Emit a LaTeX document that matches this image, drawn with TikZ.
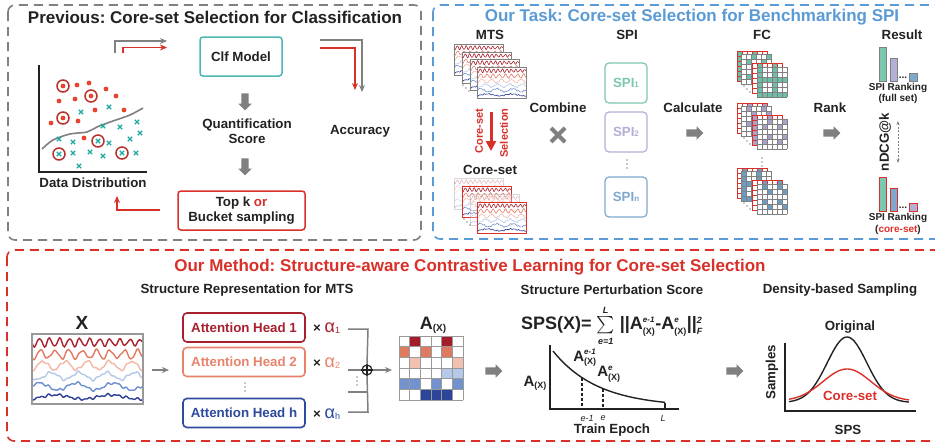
\documentclass[tikz,border=0pt]{standalone}
\usepackage{amsmath}
\usepackage{fontspec}
\setmainfont{Liberation Sans}
\usetikzlibrary{arrows.meta, shapes.arrows, positioning}
\frenchspacing

\definecolor{txt}{HTML}{222222}
\definecolor{grayline}{HTML}{808080}
\definecolor{bluet}{HTML}{5B9BD5}
\definecolor{redm}{HTML}{D9302A}
\definecolor{tealbox}{HTML}{4DB8B3}
\definecolor{dotred}{HTML}{E8432D}
\definecolor{crossteal}{HTML}{1FA8A0}
\definecolor{ringred}{HTML}{B8302A}
\definecolor{wA}{HTML}{A8202E}
\definecolor{wB}{HTML}{E07A62}
\definecolor{wC}{HTML}{F2B8A5}
\definecolor{wD}{HTML}{B4C8E8}
\definecolor{wE}{HTML}{6E8FCF}
\definecolor{wF}{HTML}{2E3F95}
\definecolor{spiA}{HTML}{7CC7B0}
\definecolor{spiB}{HTML}{B5AFD6}
\definecolor{spiC}{HTML}{7EA9CE}
\definecolor{cellA}{HTML}{6DBFA9}
\definecolor{cellB}{HTML}{A8A2CB}
\definecolor{cellC}{HTML}{6D9CC3}
\definecolor{headA}{HTML}{A8202E}
\definecolor{headB}{HTML}{E8836B}
\definecolor{headC}{HTML}{2E4A9E}
\definecolor{mW}{HTML}{FFFFFF}
\definecolor{mA}{HTML}{A31D2A}
\definecolor{mB}{HTML}{DE7A60}
\definecolor{mC}{HTML}{F2C0AE}
\definecolor{mD}{HTML}{B5C9E8}
\definecolor{mE}{HTML}{7192CC}
\definecolor{mF}{HTML}{2D4598}

\tikzset{
  panel/.style={rounded corners=7pt, line width=1.6pt, dash pattern=on 9pt off 6pt},
  tit/.style={font=\bfseries\fontsize{17}{20}\selectfont},
  lab/.style={font=\bfseries\fontsize{13.3}{15.5}\selectfont, align=center},
  sml/.style={font=\bfseries\fontsize{10}{12}\selectfont, align=center},
  tiny/.style={font=\itshape\fontsize{9}{10}\selectfont, inner sep=0pt},
  garr/.style={draw=grayline, line width=1.5pt, -{Stealth[length=7pt,width=6pt]}},
  rarr/.style={draw=redm, line width=1.5pt, -{Stealth[length=7pt,width=6pt]}},
  blk/.style={single arrow, fill=grayline, draw=none, inner sep=3.4pt,
    minimum height=17pt, single arrow head extend=3pt},
  headbox/.style={lab, rounded corners=4pt, line width=1.6pt, fill=white,
    minimum width=122pt, minimum height=29pt},
  spibox/.style={lab, rounded corners=4pt, line width=1.2pt, minimum width=42pt, minimum height=40pt},
  crs/.pic={\draw[crossteal, line width=1.1pt] (-2.2,-2.2) -- (2.2,2.2) (-2.2,2.2) -- (2.2,-2.2);},
  vdots/.pic={\foreach \d in {-4,0,4} \fill[txt] (0,\d) circle (0.7);},
  ddots/.pic={\foreach \d in {-3,0,3} \fill[txt] (\d,\d) circle (0.6);}
}

% one time-series panel: x, y, width, height, line width, border
\newcommand{\mtspanel}[6]{%
  \begin{scope}[shift={(#1,#2)}, x=#3pt, y=-#4pt]
    \fill[white] (0,0) rectangle (1,1);
    \foreach \c/\lv/\am/\fr/\ph in {wA/0.12/0.05/11/0, wB/0.29/0.06/8/40, wC/0.45/0.06/5/90,
        wD/0.60/0.05/4/20, wE/0.75/0.05/3/200, wF/0.90/0.03/2/120}
      \draw[\c, line width=#5] plot[domain=0:1, samples=90]
        (\x, {\lv+\am*sin(\fr*360*\x+\ph)+0.012*sin(4100*\x)+0.01*sin(6700*\x)});
    \draw[#6] (0,0) rectangle (1,1);
  \end{scope}}

% one FC matrix: x, y, grid colour, cell colour, seed
\newcommand{\fcmat}[5]{%
  \fill[white] (#1,#2) rectangle ++(30,30);
  \foreach \i in {0,...,5}{\foreach \j in {0,...,5}{%
    \pgfmathtruncatemacro{\kk}{mod(7*\i+3*\j+\i*\j+#5,3)}%
    \ifnum\kk=0 \fill[#4] (#1+5*\i,#2+5*\j) rectangle ++(5,5);\fi}}%
  \foreach \t in {0,5,...,30}{\draw[#3, line width=0.6pt] (#1+\t,#2) -- ++(0,30);
    \draw[#3, line width=0.6pt] (#1,#2+\t) -- ++(30,0);}}

% a group of FC matrices
\newcommand{\fcgroup}[3]{%
  \fcmat{737}{#1}{redm}{#2}{#3}
  \fcmat{741}{#1+3}{grayline}{#2}{#3+1}
  \pic at (747,#1+38) {ddots};
  \fcmat{752}{#1+12}{redm}{#2}{#3+2}
  \fcmat{757}{#1+16}{grayline}{#2}{#3}}

\newcommand{\AX}[1]{$\mbox{A}^{\mbox{\fontsize{8}{8}\selectfont\itshape #1}}_{\mbox{\fontsize{9}{9}\selectfont (X)}}$}

\begin{document}
\begin{tikzpicture}[x=1pt, y=-1pt, every node/.style={text=txt, inner sep=1pt}]
\useasboundingbox[fill=white] (0,0) rectangle (935,442);

% panels and titles
\draw[panel, draw=grayline] (8,5) rectangle (421,240);
\draw[panel, draw=bluet] (433,5) rectangle (950,239);
\draw[panel, draw=redm] (7,250) rectangle (950,441);
\node[tit] (t1) at (215,17) {Previous: Core-set Selection for Classification};
\node[tit, text=bluet] (t2) at (692,17) {Our Task: Core-set Selection for Benchmarking SPI};
\node[tit, text=redm] (t3) at (470,267) {Our Method: Structure-aware Contrastive Learning for Core-set Selection};

% ---- previous: classification
\draw[txt, line width=2pt] (39,65) -- (39,172) -- (147,172);
\draw[grayline, line width=1.6pt] plot[smooth] coordinates {(42,149) (53,140) (70,134) (87,132) (97,127) (113,121) (130,115) (143,108)};
\foreach \p in {(77,85),(89,83),(106,89),(116,96),(59,101),(75,99),(95,110),(124,110),(51,123),(78,121),(84,138)}
  \fill[dotred] \p circle (2.4);
\foreach \p in {(63,86),(91,96),(63,118)}
  {\fill[dotred] \p circle (2.4); \draw[ringred, line width=1.5pt] \p circle (6);}
\foreach \p in {(81,112),(109,107),(103,126),(120,127),(137,122),(140,133),(59,139),(73,142),(130,139),
    (109,143),(73,153),(90,152),(103,156),(136,153),(79,166)}
  \pic at \p {crs};
\foreach \p in {(98,141),(59,154),(122,153)}
  {\pic at \p {crs}; \draw[ringred, line width=1.5pt] \p circle (6);}
\node[lab] (dd) at (93,183) {Data Distribution};

\node[lab, draw=tealbox, line width=1.5pt, rounded corners=3pt, minimum width=82pt, minimum height=39pt] (clf) at (241,56.5) {Clf Model};
\node[blk, rotate=-90] (da1) at (245,100) {};
\node[lab] (qs) at (247,131) {Quantification\\Score};
\node[blk, rotate=-90] (da2) at (245,165) {};
\node[lab, draw=redm, line width=1.5pt, rounded corners=3pt, minimum width=127pt, minimum height=39pt] (topk) at (241.5,210.5) {Top k \textcolor{redm}{or}\\Bucket sampling};
\node[lab] (acc) at (360,131) {Accuracy};

\coordinate (gs) at (115,53); \coordinate (ge) at (167,41);
\coordinate (rs) at (123,53); \coordinate (re) at (167,47.5);
\coordinate (ga) at (320,40); \coordinate (gb) at (362,92);
\coordinate (ra) at (320,48); \coordinate (rb) at (355,90);
\coordinate (ts) at (160,210); \coordinate (te) at (117,196);
\draw[garr] (gs) |- (ge);
\draw[rarr] (rs) |- (re);
\draw[garr] (ga) -| (gb);
\draw[rarr] (ra) -| (rb);
\draw[rarr] (ts) -| (te);

% ---- our task: benchmarking SPI
\node[lab] (mts) at (490,35) {MTS};
\node[lab] (spi) at (627,35) {SPI};
\node[lab] (fc) at (762,35) {FC};
\node[lab] (res) at (902,35) {Result};

\mtspanel{454}{44}{49}{31}{0.6pt}{draw=grayline, line width=0.8pt}
\mtspanel{462}{52}{49}{31}{0.6pt}{draw=grayline, line width=0.8pt}
\mtspanel{470}{59}{49}{31}{0.6pt}{draw=grayline, line width=0.8pt}
\mtspanel{477}{67}{49}{31}{0.6pt}{draw=grayline, line width=0.8pt}
\pic at (466,88) {ddots};

\coordinate (sa) at (491,112); \coordinate (sb) at (491,151);
\draw[redm, line width=3pt, -{Triangle[length=10pt,width=10pt]}] (sa) -- (sb);
\node[sml, text=redm, rotate=90, font=\bfseries\fontsize{11}{12}\selectfont] (cs1) at (479,131) {Core-set};
\node[sml, text=redm, rotate=90, font=\bfseries\fontsize{11}{12}\selectfont] (cs2) at (504,133) {Selection};
\node[lab] (core) at (490,170) {Core-set};

\begin{scope}[opacity=0.3]\mtspanel{454}{178}{49}{31}{0.6pt}{draw=grayline, line width=0.8pt}\end{scope}
\mtspanel{462}{186}{49}{31}{0.6pt}{draw=redm, line width=1pt}
\begin{scope}[opacity=0.3]\mtspanel{470}{194}{49}{31}{0.6pt}{draw=grayline, line width=0.8pt}\end{scope}
\mtspanel{477}{202}{49}{31}{0.6pt}{draw=redm, line width=1pt}
\pic at (467,222) {ddots};

\node[lab] (comb) at (558,108) {Combine};
\draw[grayline, line width=4pt] (551,128) -- (565,142) (551,142) -- (565,128);

\node[spibox, draw=spiA, text=spiA] (spi1) at (626,83) {SPI{\fontsize{8}{8}\selectfont 1}};
\node[spibox, draw=spiB, text=spiB] (spi2) at (626,132) {SPI{\fontsize{8}{8}\selectfont 2}};
\pic at (627,164) {vdots};
\node[spibox, draw=spiC, text=spiC] (spin) at (626,197) {SPI{\fontsize{8}{8}\selectfont n}};

\node[lab] (calc) at (693,108) {Calculate};
\node[blk] (ca) at (693,133) {};

\fcgroup{51}{cellA}{0}
\fcgroup{103}{cellB}{1}
\pic at (762,162) {vdots};
\fcgroup{168}{cellC}{2}

\node[lab] (rank) at (830,108) {Rank};
\node[blk] (ra1) at (830,133) {};

\draw[grayline, line width=0.8pt, fill=spiA] (879,47) rectangle (886,81);
\draw[grayline, line width=0.8pt, fill=spiB] (890,58) rectangle (897,81);
\draw[grayline, line width=0.8pt, fill=spiC] (909,73) rectangle (917,81);
\node[sml] (d1) at (903,78) {...};
\node[sml] (rk1) at (898,88) {SPI Ranking};
\node[sml] (rk1b) at (898,99) {(full set)};
\node[lab, rotate=90] (ndcg) at (885,142) {nDCG@k};
\coordinate (na) at (898,121); \coordinate (nb) at (898,163);
\draw[grayline, line width=1pt, dash pattern=on 2pt off 1.5pt, {Stealth[length=4pt]}-{Stealth[length=4pt]}] (na) -- (nb);
\draw[redm, line width=0.8pt, fill=spiA] (879,177) rectangle (886,211);
\draw[redm, line width=0.8pt, fill=spiC] (890,188) rectangle (897,211);
\draw[redm, line width=0.8pt, fill=spiB] (909,203) rectangle (917,211);
\node[sml] (d2) at (903,208) {...};
\node[sml] (rk2) at (898,218) {SPI Ranking};
\node[sml] (rk2b) at (898,230) {(\textcolor{redm}{core-set})};

% ---- our method
\node[lab] (sr) at (247,290) {Structure Representation for MTS};
\node[font=\bfseries\fontsize{19}{20}\selectfont] (xl) at (82,323) {X};
\mtspanel{32}{334}{111}{70}{1.4pt}{draw=grayline!80, line width=1.5pt}
\coordinate (xa) at (152,370); \coordinate (xb) at (169,370);
\draw[garr] (xa) -- (xb);

\node[headbox, draw=headA, text=headA] (h1) at (244,327.5) {Attention Head 1};
\node[headbox, draw=headB, text=headB] (h2) at (244,362) {Attention Head 2};
\pic at (245,387) {vdots};
\node[headbox, draw=headC, text=headC] (hh) at (244,413) {Attention Head h};

\node[lab, anchor=west] (a1) at (312,328) {× \textcolor{headA}{\mdseries\fontsize{18}{18}\selectfont α\raisebox{-1pt}{\fontsize{9}{9}\selectfont 1}}};
\node[lab, anchor=west] (a2) at (312,363) {× \textcolor{headB}{\mdseries\fontsize{18}{18}\selectfont α\raisebox{-1pt}{\fontsize{9}{9}\selectfont 2}}};
\node[lab, anchor=west] (ah) at (312,414) {× \textcolor{headC}{\mdseries\fontsize{18}{18}\selectfont α\raisebox{-1pt}{\fontsize{9}{9}\selectfont h}}};

\node[circle, draw=txt, line width=1.2pt, minimum size=10pt, inner sep=0pt] (sum) at (367,370) {};
\draw[txt, line width=1.2pt] (sum.north) -- (sum.south) (sum.west) -- (sum.east);
\coordinate (b1) at (348,329); \coordinate (b2) at (348,370); \coordinate (b3) at (348,392); \coordinate (b4) at (348,412);
\draw[grayline, line width=1.5pt] (b1) -- (368,329) -- (sum.north);
\draw[grayline, line width=1.5pt] (b4) -- (368,412) -- (sum.south);
\draw[grayline, line width=1.5pt] (b2) -- (sum.west);
\draw[grayline, line width=1.5pt] (b3) -- (368,392);
\pic at (357,381) {vdots};
\coordinate (mx) at (392,370);
\draw[garr] (sum.east) -- (mx);

\node (axl) at (433,325) {\bfseries\fontsize{18}{18}\selectfont A\raisebox{-2pt}{\fontsize{10}{10}\selectfont (X)}};
\foreach \row [count=\r from 0] in {{mW,mA,mW,mW,mA,mW},{mB,mW,mB,mW,mB,mW},{mW,mC,mW,mW,mW,mC},
    {mW,mW,mW,mW,mD,mD},{mE,mE,mW,mE,mW,mE},{mW,mW,mF,mF,mF,mW}}
  \foreach \cc [count=\q from 0] in \row
    \fill[\cc] (399+10.7*\q,336+10.7*\r) rectangle ++(10.7,10.7);
\foreach \t in {0,...,6}
  {\draw[grayline!80, line width=1pt] (399+10.7*\t,336) -- ++(0,64.2);
   \draw[grayline!80, line width=1pt] (399,336+10.7*\t) -- ++(64.2,0);}

\node[blk] (ma) at (492,371) {};
\node[lab] (sp) at (612,290) {Structure Perturbation Score};
\node[font=\bfseries\fontsize{18}{20}\selectfont, inner sep=0pt] (form) at (612,326) {SPS(X)=
  $\sum\limits_{\mbox{\fontsize{9}{9}\selectfont\itshape e=1}}^{\mbox{\fontsize{9}{9}\selectfont\itshape L}}$
  ||\AX{e-1}-\AX{e}||$^{\mbox{\fontsize{9}{9}\selectfont\itshape 2}}_{\mbox{\fontsize{9}{9}\selectfont\itshape F}}$};
\draw[txt, line width=1.8pt] (550,345) -- (550,409) -- (679,409);
\draw[txt, line width=1.4pt] plot[domain=553:665, samples=60] (\x, {407-56*exp(-(\x-553)/45)});
\draw[txt, line width=2pt, dash pattern=on 3pt off 2pt] (582,378) -- (582,409);
\draw[txt, line width=2pt, dash pattern=on 3pt off 2pt] (603,389) -- (603,409);
\draw[txt, line width=2pt] (665,403) -- (665,409);
\node[tiny] (te1) at (587,418) {e-1};
\node[tiny] (te2) at (603,418) {e};
\node[tiny] (tl) at (663,418) {L};
\node[lab] (tep) at (612,430) {Train Epoch};
\node[font=\bfseries\fontsize{15}{15}\selectfont, inner sep=0pt] (ay) at (535,383) {A\raisebox{-2pt}{\fontsize{9}{9}\selectfont (X)}};
\node[font=\bfseries\fontsize{15}{15}\selectfont, inner sep=0pt] (ae1) at (585,358) {\AX{e-1}};
\node[font=\bfseries\fontsize{15}{15}\selectfont, inner sep=0pt] (ae2) at (609,374) {\AX{e}};

\node[blk] (mb) at (733,371) {};
\node[lab] (ds) at (840,290) {Density-based Sampling};
\draw[txt, line width=1.8pt] (785,343) -- (785,411) -- (916,411);
\draw[txt, line width=1.4pt] plot[domain=789:909, samples=80, smooth] (\x, {402.5-65.5*exp(-((\x-847)/28)^2)});
\draw[redm, line width=1.4pt] plot[domain=789:909, samples=80, smooth] (\x, {401-32*exp(-((\x-847)/34)^2)});
\node[lab] (orig) at (850,327) {Original};
\node[lab, text=redm] (cset) at (850,396) {Core-set};
\node[lab, rotate=90] (smp) at (772,372) {Samples};
\node[lab] (sps) at (848,430) {SPS};
\end{tikzpicture}
\end{document}
